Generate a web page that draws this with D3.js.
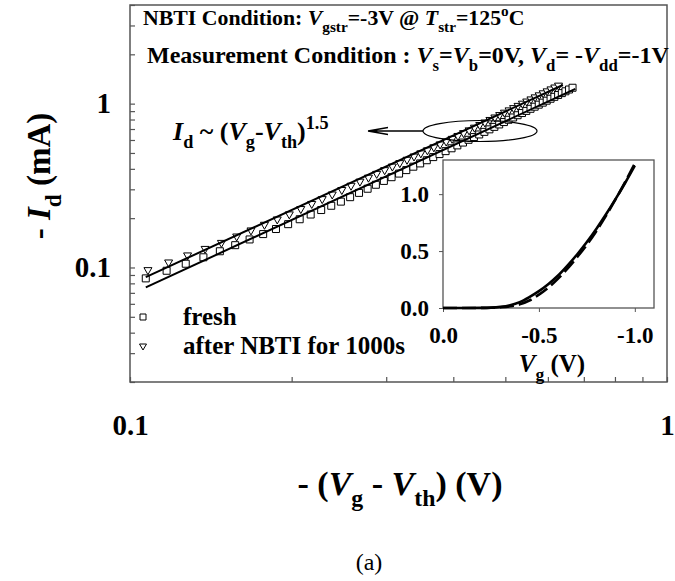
<!DOCTYPE html>
<html>
<head>
<meta charset="utf-8">
<script src="https://cdn.jsdelivr.net/npm/d3@7"></script>
<style>
  body { margin: 0; background: #fff; }
</style>
</head>
<body>
<div id="chart"></div>
<script>
// main plot: -(Vg - Vth) in V vs -Id in mA
const vovFresh = [0.107,0.117,0.127,0.137,0.147,0.157,0.167,0.177,0.187,0.197,0.207,0.217,0.227,0.237,0.247,
  0.257,0.267,0.277,0.287,0.297,0.307,0.317,0.327,0.337,0.347,0.357,0.367,0.377,0.387,0.397,
  0.407,0.417,0.427,0.437,0.447,0.457,0.467,0.477,0.487,0.497,0.507,0.517,0.527,0.537,0.547,
  0.557,0.567,0.577,0.587,0.597,0.607,0.617,0.627,0.637,0.647,0.657,0.667];
const idFresh = [0.0858,0.0955,0.1054,0.1154,0.1256,0.1368,0.1483,0.1599,0.1717,0.1838,0.1970,0.2105,0.2242,0.2381,0.2523,
  0.2686,0.2853,0.3024,0.3198,0.3376,0.3557,0.3742,0.3930,0.4122,0.4317,0.4515,0.4717,0.4922,0.5130,0.5339,
  0.5562,0.5787,0.6017,0.6250,0.6485,0.6725,0.6968,0.7215,0.7465,0.7718,0.7974,0.8233,0.8497,0.8762,0.9031,
  0.9303,0.9579,0.9858,1.0140,1.0425,1.0712,1.1004,1.1297,1.1594,1.1895,1.2197,1.2504];
const vovAfter = [0.108,0.118,0.128,0.138,0.148,0.158,0.168,0.178,0.188,0.198,0.208,0.218,0.228,0.238,0.248,
  0.258,0.268,0.278,0.288,0.298,0.308,0.318,0.328,0.338,0.348,0.358,0.368,0.378,0.388,0.398,
  0.408,0.418,0.428,0.438,0.448,0.458,0.468,0.478,0.488,0.498,0.508,0.518,0.528,0.538,0.548,
  0.558,0.568,0.578,0.588,0.598,0.608,0.618,0.628];
const idAfter = [0.0950,0.1058,0.1168,0.1280,0.1393,0.1524,0.1659,0.1797,0.1937,0.2080,0.2242,0.2408,0.2577,0.2751,0.2929,
  0.3110,0.3295,0.3484,0.3676,0.3872,0.4072,0.4274,0.4480,0.4689,0.4902,0.5117,0.5336,0.5558,0.5783,0.6011,
  0.6261,0.6515,0.6772,0.7034,0.7298,0.7568,0.7840,0.8117,0.8398,0.8682,0.8970,0.9260,0.9555,0.9855,1.0156,
  1.0462,1.0770,1.1084,1.1401,1.1719,1.2043,1.2369,1.2700];

// the two power-law fit lines (endpoints)
const fitFreshX = [0.107, 0.675];
const fitFreshY = [0.0756, 1.23];
const fitAfterX = [0.107, 0.64];
const fitAfterY = [0.0873, 1.30];

const xTickLabels = [0.1, 1];
const yTickLabels = [0.1, 1];

// inset: Vg (V) vs -Id (mA), linear
const vgInset = [0, -0.1, -0.2, -0.25, -0.3, -0.35, -0.4, -0.45, -0.5, -0.55, -0.6, -0.65, -0.7, -0.75, -0.8, -0.85, -0.9, -0.95, -1.0];
const idInsetFresh = [0, 0, 0.001, 0.003, 0.01, 0.025, 0.052, 0.096, 0.148, 0.211, 0.285, 0.374, 0.472, 0.579, 0.697, 0.823, 0.958, 1.100, 1.250];
const idInsetAfter = [0, 0, 0.001, 0.002, 0.006, 0.015, 0.032, 0.066, 0.117, 0.180, 0.258, 0.348, 0.448, 0.556, 0.677, 0.812, 0.956, 1.108, 1.270];
const insetXTicks = [0, -0.5, -1.0];
const insetYTicks = [0, 0.5, 1.0];

const W = 675, H = 581;
const FONT = '"Liberation Serif", "Times New Roman", Times, serif';
const frame = { left: 130, right: 667, top: 5, bottom: 382 };
const axisColor = '#555';

const svg = d3.select('#chart').append('svg')
  .attr('width', W).attr('height', H);

svg.append('rect').attr('width', W).attr('height', H).attr('fill', '#fff');

const x = d3.scaleLog().domain([0.1, 1]).range([frame.left, frame.right]);
const y = d3.scaleLog().domain([0.02, 4]).range([frame.bottom, frame.top]);

// text with italic / sub / sup pieces
function rich(parent, px, py, size, parts, anchor, weight) {
  const t = parent.append('text')
    .attr('x', px).attr('y', py)
    .attr('font-size', size)
    .attr('font-weight', weight || 'bold')
    .attr('text-anchor', anchor || 'start')
    .attr('fill', '#000');
  let shift = 0;
  parts.forEach(([txt, kind]) => {
    const k = kind || '';
    const target = k.includes('sub') ? size * 0.32 : k.includes('sup') ? -size * 0.42 : 0;
    const ts = t.append('tspan').text(txt).attr('dy', target - shift);
    shift = target;
    if (k.includes('sub') || k.includes('sup')) ts.attr('font-size', size * 0.7);
    if (k.includes('i')) ts.attr('font-style', 'italic');
  });
  return t;
}

const hyphen = d => d === 0 ? '0.0' : d3.format('.1f')(d).replace('\u2212', '-');

// frame
svg.append('rect')
  .attr('x', frame.left).attr('y', frame.top)
  .attr('width', frame.right - frame.left).attr('height', frame.bottom - frame.top)
  .attr('fill', 'none').attr('stroke', axisColor).attr('stroke-width', 1.5);

// axes (ticks inside)
const fmtX = d => xTickLabels.some(v => Math.abs(v - d) < 1e-9) ? String(d) : '';
const fmtY = d => yTickLabels.some(v => Math.abs(v - d) < 1e-9) ? String(d) : '';

const gx = svg.append('g')
  .attr('transform', `translate(0,${frame.bottom})`)
  .call(d3.axisBottom(x).tickValues(x.ticks()).tickFormat(fmtX).tickSize(-5).tickPadding(32));
const gy = svg.append('g')
  .attr('transform', `translate(${frame.left},0)`)
  .call(d3.axisLeft(y).tickValues(y.ticks()).tickFormat(fmtY).tickSize(-5).tickPadding(19));

[gx, gy].forEach(g => {
  g.select('.domain').remove();
  g.selectAll('line').attr('stroke', axisColor).attr('stroke-width', 1.2);
  g.selectAll('text').attr('font-size', 29).attr('font-weight', 'bold').attr('fill', '#000');
});

// axis titles
rich(svg, 400, 495, 34, [['- ('], ['V', 'i'], ['g', 'sub'], [' - '], ['V', 'i'], ['th', 'sub'], [') (V)']], 'middle');
const yt = rich(svg, 0, 0, 33, [['- '], ['I', 'i'], ['d', 'sub'], [' (mA)']], 'middle');
yt.attr('transform', 'translate(50,176) rotate(-90)');

// header lines
rich(svg, 143, 25, 21.8, [['NBTI Condition: '], ['V', 'i'], ['gstr', 'sub'], ['=-3V @ '], ['T', 'i'], ['str', 'sub'], ['=125'], ['o', 'sup'], ['C']]);
rich(svg, 147, 63, 24, [['Measurement Condition : '], ['V', 'i'], ['s', 'sub'], ['='], ['V', 'i'], ['b', 'sub'],
  ['=0V, '], ['V', 'i'], ['d', 'sub'], ['= -'], ['V', 'i'], ['dd', 'sub'], ['=-1V']]);

// data marks and fit lines
const line = d3.line().x(d => x(d[0])).y(d => y(d[1]));
const plot = svg.append('g');

const squarePath = 'M-3.5,-3.5H3.5V3.5H-3.5Z';
const triPath = 'M-4,-3.5L4,-3.5L0,3.5Z';

plot.selectAll('.sq').data(d3.zip(vovFresh, idFresh)).enter().append('path')
  .attr('d', squarePath)
  .attr('transform', d => `translate(${x(d[0])},${y(d[1])})`)
  .attr('fill', '#fff').attr('stroke', '#000').attr('stroke-width', 1);

plot.selectAll('.tri').data(d3.zip(vovAfter, idAfter)).enter().append('path')
  .attr('d', triPath)
  .attr('transform', d => `translate(${x(d[0])},${y(d[1])})`)
  .attr('fill', '#fff').attr('stroke', '#000').attr('stroke-width', 1);

plot.append('path').datum(d3.zip(fitFreshX, fitFreshY))
  .attr('d', line).attr('fill', 'none').attr('stroke', '#000').attr('stroke-width', 2);
plot.append('path').datum(d3.zip(fitAfterX, fitAfterY))
  .attr('d', line).attr('fill', 'none').attr('stroke', '#000').attr('stroke-width', 2);

// annotation: ellipse + arrow + formula
svg.append('ellipse')
  .attr('cx', 480).attr('cy', 131).attr('rx', 57).attr('ry', 10.5)
  .attr('fill', 'none').attr('stroke', '#000').attr('stroke-width', 1.2);
svg.append('path')
  .attr('d', 'M423,131H368M368,131L388,127.5M368,131L388,134.5')
  .attr('fill', 'none').attr('stroke', '#000').attr('stroke-width', 1.3);
rich(svg, 173, 140, 26, [['I', 'i'], ['d', 'sub'], [' ~ ('], ['V', 'i'], ['g', 'sub'], ['-'], ['V', 'i'], ['th', 'sub'], [')'], ['1.5', 'sup']]);

// legend
const leg = svg.append('g');
leg.append('path').attr('d', 'M-3,-3H3V3H-3Z').attr('transform', 'translate(143,317)')
  .attr('fill', '#fff').attr('stroke', '#000').attr('stroke-width', 1);
leg.append('path').attr('d', 'M-3.5,-3L3.5,-3L0,3Z').attr('transform', 'translate(143,347)')
  .attr('fill', '#fff').attr('stroke', '#000').attr('stroke-width', 1);
rich(leg, 183, 325, 25, [['fresh']]);
rich(leg, 183, 354, 25, [['after NBTI for 1000s']]);

// inset
const inset = { left: 443, right: 654, top: 160, bottom: 308 };
const xi = d3.scaleLinear().domain([0, -1.1]).range([inset.left, inset.right]);
const yi = d3.scaleLinear().domain([0, 1.3]).range([inset.bottom, inset.top]);

svg.append('rect')
  .attr('x', inset.left).attr('y', inset.top)
  .attr('width', inset.right - inset.left).attr('height', inset.bottom - inset.top)
  .attr('fill', '#fff').attr('stroke', axisColor).attr('stroke-width', 1.3);

const gxi = svg.append('g').attr('transform', `translate(0,${inset.bottom})`)
  .call(d3.axisBottom(xi).tickValues(insetXTicks).tickFormat(hyphen).tickSize(4).tickPadding(15));
const gyi = svg.append('g').attr('transform', `translate(${inset.left},0)`)
  .call(d3.axisLeft(yi).tickValues(insetYTicks).tickFormat(hyphen).tickSize(4).tickPadding(10));
[gxi, gyi].forEach(g => {
  g.select('.domain').remove();
  g.selectAll('line').attr('stroke', axisColor);
  g.selectAll('text').attr('font-size', 23).attr('font-weight', 'bold').attr('fill', '#000');
});

const lineI = d3.line().x(d => xi(d[0])).y(d => yi(d[1])).curve(d3.curveMonotoneX);
svg.append('path').datum(d3.zip(vgInset, idInsetAfter))
  .attr('d', lineI).attr('fill', 'none').attr('stroke', '#000').attr('stroke-width', 2.6)
  .attr('stroke-dasharray', '14,5');
svg.append('path').datum(d3.zip(vgInset, idInsetFresh))
  .attr('d', lineI).attr('fill', 'none').attr('stroke', '#000').attr('stroke-width', 2.6);

rich(svg, 552, 372, 25, [['V', 'i'], ['g', 'sub'], [' (V)']], 'middle');

// panel label
rich(svg, 369, 570, 24, [['(a)']], 'middle', 'normal');

svg.selectAll('text').style('font-family', FONT);
</script>
</body>
</html>
